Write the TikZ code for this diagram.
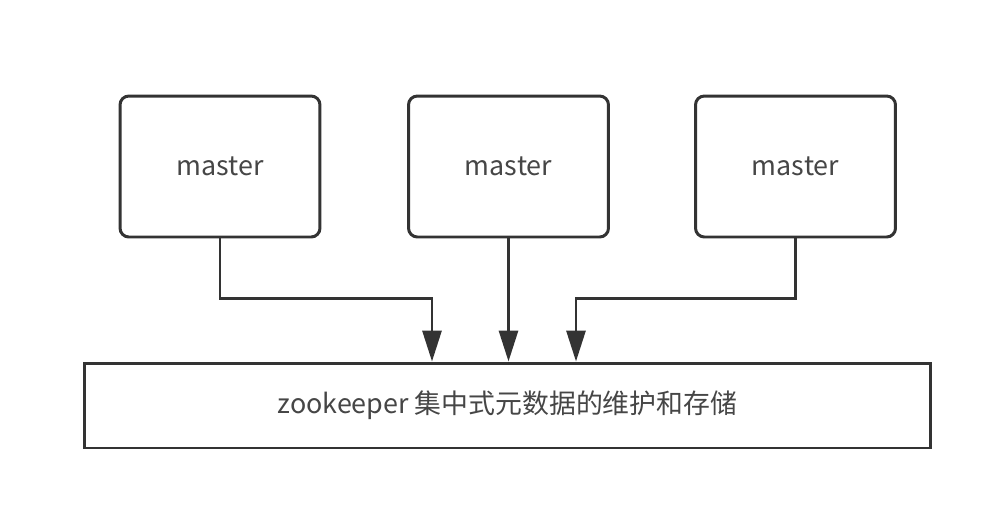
\documentclass[tikz,border=0pt]{standalone}
\usepackage{fontspec}
\setmainfont{Noto Sans CJK SC}
\usepackage{xcolor}
\usetikzlibrary{positioning, calc, arrows.meta}
\definecolor{boxline}{RGB}{51, 51, 51}
\definecolor{labelgray}{RGB}{70, 70, 70}

\begin{document}
\begin{tikzpicture}[
  x=0.02cm, y=-0.02cm,
  masterbox/.style={draw=boxline, line width=1.7pt, rounded corners=5pt, fill=white,
    minimum width=4cm, minimum height=2.82cm, inner sep=0, font=\fontsize{15.3}{17}\selectfont, text=labelgray},
  storebox/.style={draw=boxline, line width=1.7pt, fill=white,
    minimum width=16.94cm, minimum height=1.7cm, inner sep=0, font=\fontsize{15.3}{17}\selectfont, text=labelgray},
  feed/.style={draw=boxline, line width=1.7pt, -{Triangle[length=0.62cm, width=0.38cm]}},
]

% page frame
\useasboundingbox[fill=white] (0, 0) rectangle (984, 508);

% ==================== masters ====================
\node[masterbox] (m1) at (220, 166.5) {master};
\node[masterbox] (m2) at (508.5, 166.5) {master};
\node[masterbox] (m3) at (795.5, 166.5) {master};

% ==================== zookeeper ====================
\node[storebox] (zk) at (507.5, 405.5) {zookeeper 集中式元数据的维护和存储};

% bend points
\coordinate (j1) at (432, 298);
\coordinate (j3) at (576, 298);

% ==================== connectors ====================
\draw[feed] (m1.south) |- (j1) -- (j1 |- zk.north);
\draw[feed] (m2.south) -- (m2.south |- zk.north);
\draw[feed] (m3.south) |- (j3) -- (j3 |- zk.north);

\end{tikzpicture}
\end{document}
